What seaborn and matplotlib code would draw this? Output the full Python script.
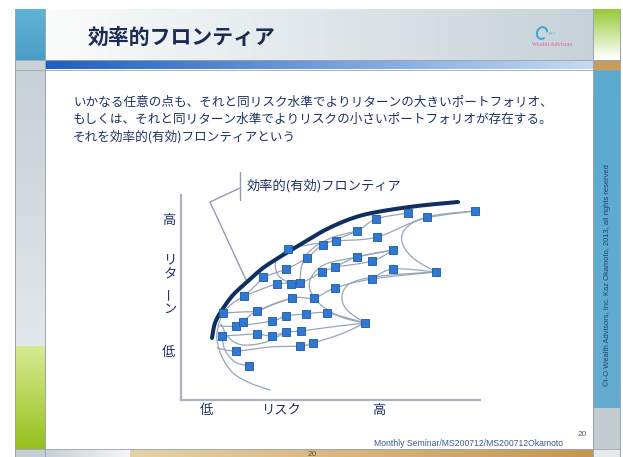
import numpy as np
import pandas as pd
import matplotlib
matplotlib.use("Agg")
import matplotlib.pyplot as plt
import matplotlib.colors as mcolors
from matplotlib.patches import Arc
import seaborn as sns

sns.set_theme(style="white")
plt.rcParams["font.family"] = ["Noto Sans CJK JP", "DejaVu Sans"]

# ---- text content ----
TITLE = "効率的フロンティア"
BODY_LINES = [
    "いかなる任意の点も、それと同リスク水準でよりリターンの大きいポートフォリオ、",
    "もしくは、それと同リターン水準でよりリスクの小さいポートフォリオが存在する。",
    "それを効率的(有効)フロンティアという",
]
FRONTIER_LABEL = "効率的(有効)フロンティア"
RISK_TICKS = [25, 100, 198]
RISK_TICK_LABELS = ["低", "リスク", "高"]
RETURN_TICKS = [49, 181]
RETURN_TICK_LABELS = ["低", "高"]
RETURN_LABEL = ["リ", "タ", "ー", "ン"]
COPYRIGHT = "©I-O Wealth Advisors, Inc. Kaz Okamoto, 2013, all rights reserved"
FOOTER = "Monthly Seminar/MS200712/MS200712Okamoto"
PAGE = "20"

# ---- individual portfolios (risk, return) ----
port_risk = [42, 41, 55, 62, 55, 68, 63, 76, 76, 91, 91, 82, 96, 105, 110, 119,
             107, 126, 142, 155, 141, 154, 111, 133, 105, 125, 146, 105, 120, 119,
             132, 154, 176, 195, 196, 176, 191, 191, 212, 212, 227, 246, 294, 255, 184]
port_return = [87, 64, 74, 78, 49, 34, 104, 89, 66, 79, 64, 123, 116, 131, 116, 117,
               151, 142, 155, 159, 128, 133, 102, 102, 84, 86, 87, 68, 69, 54,
               57, 112, 169, 181, 163, 143, 139, 121, 150, 131, 187, 183, 189, 128, 77]

# ---- efficient frontier ----
frontier_risk = [31, 34, 41, 52, 66, 82, 102, 122, 146, 172, 196, 236, 277]
frontier_return = [62, 77, 90, 105, 118, 132, 145, 157, 171, 182, 188, 194, 198]

# ---- combination curves between portfolios ----
combo_curves = [
    [(89, 10), (69, 17), (52, 27), (41, 43), (36, 60), (37, 73), (42, 87), (52, 97), (63, 104), (75, 115), (82, 123)],
    [(41, 64), (44, 50), (54, 38), (68, 34)],
    [(36, 52), (55, 49), (89, 53), (119, 54), (132, 57), (160, 66), (184, 77)],
    [(41, 64), (58, 65), (76, 66), (91, 64), (105, 68), (120, 69), (150, 73), (184, 77)],
    [(38, 74), (55, 74), (91, 79), (105, 84), (125, 86), (146, 87), (184, 77)],
    [(62, 78), (76, 89), (111, 102), (133, 102), (154, 112), (191, 121), (255, 128)],
    [(63, 104), (96, 116), (119, 117), (141, 128), (154, 133), (176, 143), (212, 150)],
    [(82, 123), (105, 131), (126, 142), (142, 155), (176, 169), (195, 181), (227, 187)],
    [(107, 151), (126, 155), (155, 159), (196, 163), (246, 183), (294, 189)],
    [(255, 128), (232, 142), (221, 158), (225, 172), (245, 182), (294, 189)],
    [(184, 77), (166, 90), (161, 104), (170, 117), (200, 124), (255, 128)],
    [(184, 77), (160, 83), (140, 95), (129, 110), (131, 124), (145, 136), (176, 143), (212, 150)],
    [(110, 116), (97, 125), (95, 140), (107, 151)],
    [(119, 117), (121, 135), (130, 150), (150, 162), (176, 169)],
    [(154, 133), (191, 139), (212, 150)],
    [(191, 121), (212, 131), (255, 128)],
    [(42, 87), (60, 88), (76, 89), (91, 95), (111, 102)],
    [(40, 76), (48, 62), (62, 55), (85, 58), (105, 68)],
]


def smooth(points, n=16):
    """Catmull-Rom spline through the given waypoints (for drawing only)."""
    p = np.asarray(points, float)
    p = np.vstack([p[0], p, p[-1]])
    t = np.linspace(0, 1, n, endpoint=False)[:, None]
    segs = []
    for i in range(1, len(p) - 2):
        p0, p1, p2, p3 = p[i - 1], p[i], p[i + 1], p[i + 2]
        segs.append(0.5 * (2 * p1 + (-p0 + p2) * t + (2 * p0 - 5 * p1 + 4 * p2 - p3) * t ** 2
                           + (-p0 + 3 * p1 - 3 * p2 + p3) * t ** 3))
    segs.append(p[-2][None, :])
    return np.vstack(segs)


W, H = 623, 457
fig = plt.figure(figsize=(W / 100, H / 100), dpi=100)
fig.patch.set_facecolor("white")

# slide background, in pixel units
bg = fig.add_axes([0, 0, 1, 1])
bg.set_axis_off()


def grad(x0, x1, y0, y1, c0, c1, vertical=False):
    t = np.linspace(0, 1, 256)[:, None]
    a = np.array(mcolors.to_rgb(c0))
    b = np.array(mcolors.to_rgb(c1))
    cols = a * (1 - t) + b * t
    img = cols[:, None, :] if vertical else cols[None, :, :]
    bg.imshow(img, extent=(x0, x1, y1, y0), aspect="auto", interpolation="bilinear",
              origin="upper", zorder=0)


# left column
grad(15, 45, 9, 60, "#62b4d4", "#4a9dc6", vertical=True)
grad(15, 45, 60, 70, "#c9d3d9", "#c9d3d9")
grad(15, 45, 70, 346, "#c6d0d7", "#e3e8eb", vertical=True)
grad(15, 45, 346, 449, "#d9ea94", "#95c11c", vertical=True)
grad(15, 45, 449, 457, "#c6cfd5", "#c6cfd5")
# title band and rule
grad(45, 593, 9, 60, "#fbfcfc", "#c6d2d9")
grad(45, 593, 60, 69, "#1f5fc2", "#c4dbf2")
# right column
grad(593, 620, 9, 58, "#96c935", "#ffffff", vertical=True)
grad(593, 620, 60, 70, "#c89d5a", "#c89d5a")
grad(593, 620, 70, 408, "#5aaad1", "#66acd0", vertical=True)
grad(593, 620, 408, 449, "#c4cdd2", "#c4cdd2")
grad(593, 620, 449, 457, "#e6eaec", "#e6eaec")
# bottom band
grad(45, 130, 449, 457, "#c6cfd5", "#f4f6f7")
grad(130, 593, 449, 457, "#e4d2aa", "#c39850")

for x in (15, 45, 593, 620):
    bg.plot([x, x], [9, 457], color="#98a4ae", lw=0.7, zorder=1)
for y in (60, 70, 449):
    bg.plot([15, 620], [y, y], color="#98a4ae", lw=0.6, zorder=1)
bg.set_xlim(0, W)
bg.set_ylim(H, 0)

# logo
bg.add_patch(Arc((542, 33), 10, 12, angle=20, theta1=40, theta2=330,
                 color="#3aa6d8", lw=1.4, zorder=2))
bg.text(549, 34, "I-O", fontsize=3.5, color="#3aa6d8", family="Liberation Serif",
        ha="left", va="center", zorder=2)
bg.text(552, 45, "Wealth Advisors", fontsize=4.3, color="#e0629c",
        family="Liberation Serif", ha="center", va="center", zorder=2)

# title and body text
bg.text(88, 37, TITLE, fontsize=15, fontweight="bold", style="italic",
        color="#1b2b52", ha="left", va="center", zorder=3)
for i, line in enumerate(BODY_LINES):
    bg.text(73, 102 + 17.3 * i, line, fontsize=9.05, color="#1d3263",
            ha="left", va="center", zorder=3)

# vertical axis title
for ch, y in zip(RETURN_LABEL, [260, 275, 293, 309]):
    bg.text(170, y, ch, fontsize=9.5, color="#1d3263", ha="center", va="center",
            rotation=90 if ch == "ー" else 0, zorder=3)

# slide furniture
bg.text(607, 275, COPYRIGHT, rotation=90, fontsize=5.4, color="#24406c",
        family="Liberation Sans", ha="center", va="center", zorder=3)
bg.text(468, 443, FOOTER, fontsize=6.2, color="#3c5c8e", family="Liberation Sans",
        ha="center", va="center", zorder=3)
bg.text(582, 434, PAGE, fontsize=6, color="#55606a", family="Liberation Sans",
        ha="center", va="center", zorder=3)
bg.text(312, 454, PAGE, fontsize=6, color="#6b5a3c", family="Liberation Sans",
        ha="center", va="center", zorder=3)

# ---- chart ----
ax = fig.add_axes([181 / W, 1 - 400 / H, 299 / W, 205 / H])
ax.patch.set_alpha(0)
ax.set_xlim(0, 299)
ax.set_ylim(0, 205)

curve_rows = []
for k, pts in enumerate(combo_curves):
    s = smooth(pts)
    curve_rows.append(pd.DataFrame({"curve": k, "step": np.arange(len(s)),
                                    "risk": s[:, 0], "ret": s[:, 1]}))
curves_df = pd.concat(curve_rows, ignore_index=True)
sns.lineplot(data=curves_df, x="risk", y="ret", units="curve", estimator=None,
             sort=False, color="#98a5b9", lw=0.9, ax=ax, zorder=2)

fs = smooth(list(zip(frontier_risk, frontier_return)), n=24)
front_df = pd.DataFrame({"risk": fs[:, 0], "ret": fs[:, 1]})
sns.lineplot(data=front_df, x="risk", y="ret", sort=False, estimator=None,
             color="#0f2e62", lw=2.9, ax=ax, zorder=4)

port_df = pd.DataFrame({"risk": port_risk, "ret": port_return})
sns.scatterplot(data=port_df, x="risk", y="ret", marker="s", s=36,
                color="#2f79d2", edgecolor="#1b58a8", linewidth=0.6, ax=ax, zorder=5)

# frontier call-out
ax.plot([59, 59], [200, 228], color="#8f9db2", lw=1.0, clip_on=False)
ax.plot([59, 29, frontier_risk[4]], [212, 198, frontier_return[4]],
        color="#8f9db2", lw=1.0, clip_on=False, zorder=3)
ax.text(66, 214, FRONTIER_LABEL, fontsize=9.5, color="#1d3263",
        ha="left", va="center", clip_on=False)

ax.set_xticks(RISK_TICKS, RISK_TICK_LABELS)
ax.set_yticks(RETURN_TICKS, RETURN_TICK_LABELS)
ax.tick_params(length=0, labelsize=9.5, labelcolor="#1d3263")
ax.tick_params(axis="x", pad=3)
ax.tick_params(axis="y", pad=4)
ax.set_xlabel("")
ax.set_ylabel("")
sns.despine(ax=ax)
for side in ("left", "bottom"):
    ax.spines[side].set_color("#a9b5c5")
    ax.spines[side].set_linewidth(1.6)

fig.savefig("out.png", dpi=100)
